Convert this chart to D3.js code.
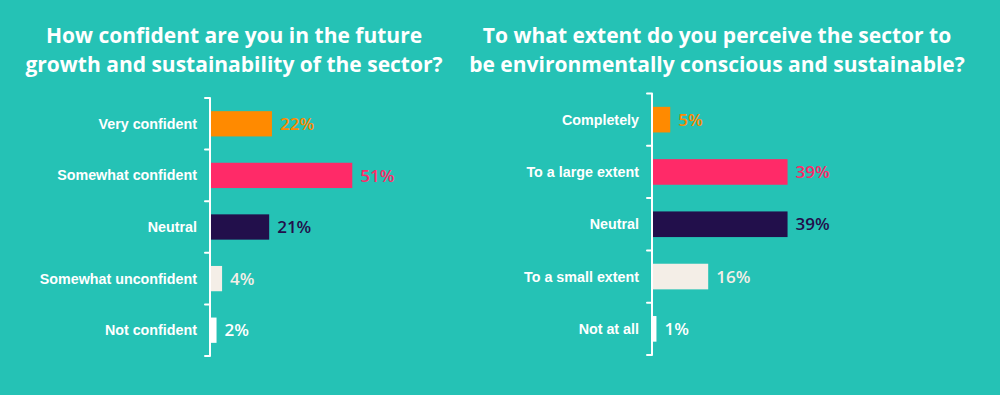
<!DOCTYPE html>
<html>
<head>
<meta charset="utf-8">
<script src="https://cdn.jsdelivr.net/npm/d3@7"></script>
<style>
  html, body { margin: 0; padding: 0; background: #25c2b5; }
  svg { display: block; }
</style>
</head>
<body>
<script>
// ---- data ----
const leftTitle = ["How confident are you in the future", "growth and sustainability of the sector?"];
const leftCategories = ["Very confident", "Somewhat confident", "Neutral", "Somewhat unconfident", "Not confident"];
const leftValues = [22, 51, 21, 4, 2];

const rightTitle = ["To what extent do you perceive the sector to", "be environmentally conscious and sustainable?"];
const rightCategories = ["Completely", "To a large extent", "Neutral", "To a small extent", "Not at all"];
const rightValues = [5, 39, 39, 16, 1];

const barColors = ["#ff8a00", "#ff2a68", "#220f4b", "#f4eee7", "#ffffff"];
const labelColors = ["#ff8a00", "#ff2a68", "#220f4b", "#f4eee7", "#ffffff"];

// ---- layout ----
const W = 1000, H = 395;
const svg = d3.select("body").append("svg").attr("width", W).attr("height", H);
svg.append("rect").attr("width", W).attr("height", H).attr("fill", "#25c2b5");

function drawChart(cfg) {
  const g = svg.append("g");

  // title
  const t = g.append("text")
    .attr("x", cfg.titleX)
    .attr("text-anchor", "middle")
    .attr("fill", "#ffffff")
    .style("font-family", "'Open Sans', sans-serif")
    .style("font-weight", 700)
    .style("font-size", "21px");
  cfg.title.forEach((line, i) => {
    t.append("tspan").attr("x", cfg.titleX).attr("y", 43 + i * 28.5).text(line);
  });

  const y = d3.scaleBand()
    .domain(cfg.categories)
    .range([cfg.top, cfg.bottom])
    .paddingInner(0)
    .paddingOuter(0);

  const x = d3.scaleLinear().domain([0, 100]).range([cfg.axisX + 1, cfg.axisX + 1 + cfg.width]);

  const barH = y.step() * 0.49;
  const barOff = (y.step() - barH) / 2;

  const data = cfg.categories.map((c, i) => ({ c, v: cfg.values[i], i }));

  // bars
  g.selectAll("rect.bar").data(data).enter().append("rect")
    .attr("class", "bar")
    .attr("x", x(0))
    .attr("y", d => y(d.c) + barOff)
    .attr("width", d => x(d.v) - x(0))
    .attr("height", barH)
    .attr("fill", d => barColors[d.i]);

  // value labels
  g.selectAll("text.val").data(data).enter().append("text")
    .attr("class", "val")
    .attr("x", d => x(d.v) + 8)
    .attr("y", d => y(d.c) + y.step() / 2)
    .attr("dy", "0.36em")
    .attr("fill", d => labelColors[d.i])
    .style("font-family", "'Open Sans', sans-serif")
    .style("font-weight", 600)
    .style("font-size", "17px")
    .text(d => d.v + "%");

  // category labels
  g.selectAll("text.cat").data(data).enter().append("text")
    .attr("class", "cat")
    .attr("x", cfg.axisX - 13)
    .attr("y", d => y(d.c) + y.step() / 2)
    .attr("dy", "0.35em")
    .attr("text-anchor", "end")
    .attr("fill", "#ffffff")
    .style("font-family", "'Liberation Sans', Arial, sans-serif")
    .style("font-weight", 700)
    .style("font-size", "14.3px")
    .text(d => d.c);

  // bracket axis: vertical line with ticks at band boundaries
  const bounds = d3.range(cfg.categories.length + 1).map(k => cfg.top + k * y.step());
  g.append("line")
    .attr("x1", cfg.axisX).attr("x2", cfg.axisX)
    .attr("y1", cfg.top).attr("y2", cfg.bottom)
    .attr("stroke", "#ffffff").attr("stroke-width", 2);
  g.selectAll("line.tick").data(bounds).enter().append("line")
    .attr("class", "tick")
    .attr("x1", cfg.axisX).attr("x2", cfg.axisX - 5)
    .attr("y1", d => d).attr("y2", d => d)
    .attr("stroke", "#ffffff").attr("stroke-width", 2)
    .attr("stroke-linecap", "round");
}

drawChart({
  title: leftTitle, titleX: 234,
  categories: leftCategories, values: leftValues,
  axisX: 210, top: 98, bottom: 356, width: 277
});

drawChart({
  title: rightTitle, titleX: 717,
  categories: rightCategories, values: rightValues,
  axisX: 652, top: 93.5, bottom: 355, width: 345
});
</script>
</body>
</html>
